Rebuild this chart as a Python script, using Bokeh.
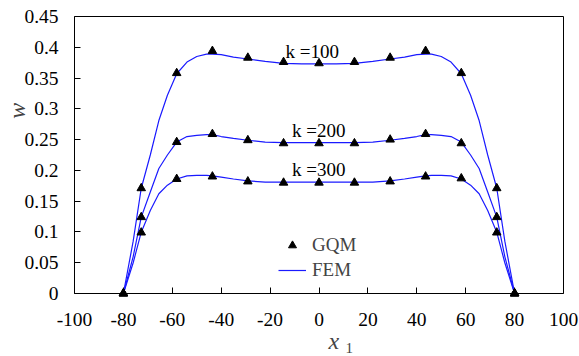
import math
from bokeh.plotting import figure
from bokeh.models import ColumnDataSource, Legend, LegendItem, Label, FixedTicker, Range1d, LinearAxis
from bokeh.core.properties import value
from bokeh.embed import file_html
from bokeh.resources import INLINE

# GQM points
gqm_x = [-80, -72.7, -58.2, -43.6, -29.1, -14.5, 0, 14.5, 29.1, 43.6, 58.2, 72.7, 80]
gqm_k100 = [0, 0.171, 0.358, 0.394, 0.383, 0.376, 0.374, 0.376, 0.383, 0.394, 0.358, 0.171, 0]
gqm_k200 = [0, 0.124, 0.246, 0.259, 0.249, 0.244, 0.244, 0.244, 0.250, 0.259, 0.244, 0.124, 0]
gqm_k300 = [0, 0.099, 0.186, 0.190, 0.182, 0.180, 0.180, 0.180, 0.182, 0.190, 0.187, 0.099, 0]

# FEM curves
fem_x = [-80, -76, -72.7, -69, -65.5, -62, -58.2, -54, -50, -46, -43.6, -40, -35, -29.1, -22, -14.5, -7, 0,
         7, 14.5, 22, 29.1, 35, 40, 43.6, 46, 50, 54, 58.2, 62, 65.5, 69, 72.7, 76, 80]
fem_k100 = [0, 0.085, 0.171, 0.225, 0.281, 0.322, 0.357, 0.376, 0.385, 0.389, 0.389, 0.388, 0.384, 0.381, 0.377, 0.374, 0.373, 0.373,
            0.373, 0.374, 0.377, 0.381, 0.384, 0.388, 0.389, 0.389, 0.385, 0.376, 0.357, 0.322, 0.281, 0.225, 0.171, 0.085, 0]
fem_k200 = [0, 0.060, 0.124, 0.165, 0.203, 0.225, 0.246, 0.255, 0.257, 0.258, 0.258, 0.255, 0.252, 0.249, 0.246, 0.245, 0.245, 0.245,
            0.245, 0.245, 0.246, 0.249, 0.252, 0.255, 0.258, 0.258, 0.257, 0.255, 0.246, 0.225, 0.203, 0.165, 0.124, 0.060, 0]
fem_k300 = [0, 0.050, 0.0996, 0.135, 0.162, 0.176, 0.186, 0.191, 0.192, 0.192, 0.191, 0.189, 0.186, 0.183, 0.181, 0.181, 0.181, 0.181,
            0.181, 0.181, 0.181, 0.183, 0.186, 0.189, 0.191, 0.192, 0.192, 0.191, 0.186, 0.176, 0.162, 0.135, 0.0996, 0.050, 0]

x_ticks = [-100, -80, -60, -40, -20, 0, 20, 40, 60, 80, 100]
y_ticks = [0, 0.05, 0.1, 0.15, 0.2, 0.25, 0.3, 0.35, 0.4, 0.45]
curve_labels = ["k =100", "k =200", "k =300"]
label_x = [-13.7, -11, -11]
label_y = [0.393, 0.264, 0.202]

X_MIN, X_MAX = -100, 100
Y_MIN, Y_MAX = 0, 0.45

FONT = "Liberation Serif"

# the frame spans the whole canvas; the plotting box is drawn with fixed-location axes
sx = (563 - 74) / (X_MAX - X_MIN)
sy = (293 - 16) / (Y_MAX - Y_MIN)
x_range = Range1d(X_MIN - 74 / sx, X_MAX + 16 / sx)
y_range = Range1d(Y_MIN - 63 / sy, Y_MAX + 16 / sy)

p = figure(width=579, height=356, output_backend="svg", toolbar_location=None,
           x_range=x_range, y_range=y_range, x_axis_location=None, y_axis_location=None,
           min_border=0)
p.grid.visible = False
p.outline_line_color = None
p.background_fill_color = "white"
p.border_fill_color = "white"


def style_axis(ax, ticks):
    ax.ticker = FixedTicker(ticks=ticks)
    ax.major_tick_in = 6
    ax.major_tick_out = 0
    ax.minor_tick_in = 0
    ax.minor_tick_out = 0
    ax.axis_line_color = "black"
    ax.axis_line_width = 1
    ax.major_tick_line_color = "black"
    ax.major_label_text_font = FONT
    ax.major_label_text_font_size = "19.5px"
    ax.major_label_text_color = "black"


xb = LinearAxis(fixed_location=Y_MIN, bounds=(X_MIN, X_MAX))
style_axis(xb, x_ticks)
xb.major_label_overrides = {t: str(t) for t in x_ticks}
xb.major_label_standoff = 19
p.add_layout(xb, "below")

yl = LinearAxis(fixed_location=X_MIN, bounds=(Y_MIN, Y_MAX))
style_axis(yl, y_ticks)
yl.major_label_overrides = {t: ("0" if t == 0 else ("%g" % t)) for t in y_ticks}
yl.major_label_standoff = 16
p.add_layout(yl, "left")

xt = LinearAxis(fixed_location=Y_MAX, bounds=(X_MIN, X_MAX))
style_axis(xt, [])
xt.major_label_text_alpha = 0
p.add_layout(xt, "above")

yr = LinearAxis(fixed_location=X_MAX, bounds=(Y_MIN, Y_MAX))
style_axis(yr, [])
yr.major_label_text_alpha = 0
p.add_layout(yr, "right")

fem_renderers = []
for ys in (fem_k100, fem_k200, fem_k300):
    r = p.line(fem_x, ys, line_color="#1a1aff", line_width=1.2)
    fem_renderers.append(r)

gqm_renderers = []
for ys in (gqm_k100, gqm_k200, gqm_k300):
    r = p.scatter(gqm_x, ys, marker="triangle", size=8.5, fill_color="black", line_color="black")
    gqm_renderers.append(r)

src = ColumnDataSource(dict(x=label_x, y=label_y, t=curve_labels))
p.text(x="x", y="y", text="t", source=src, text_font=value(FONT), text_font_size="19px",
       text_color="black", text_align="left", text_baseline="alphabetic")

legend = Legend(items=[LegendItem(label="GQM", renderers=[gqm_renderers[0]]),
                       LegendItem(label="FEM", renderers=[fem_renderers[0]])],
                location=(278, 75), glyph_width=28, glyph_height=20, label_standoff=6,
                padding=0, spacing=3, margin=0, border_line_alpha=0, background_fill_alpha=0,
                label_text_font=FONT, label_text_font_size="19px", label_height=20)
p.add_layout(legend)

p.add_layout(Label(x=3.9, y=-0.0779, text="x", text_font=FONT, text_font_style="italic",
                   text_font_size="24px", text_baseline="alphabetic", text_align="left"))
p.add_layout(Label(x=10.8, y=-0.0893, text="1", text_font=FONT,
                   text_font_size="15px", text_baseline="alphabetic", text_align="left"))
p.add_layout(Label(x=-123.7, y=0.297, text="w", text_font=FONT, text_font_style="italic",
                   text_font_size="24px", text_baseline="alphabetic", text_align="center",
                   angle=math.pi / 2))

open("out.html", "w").write(file_html(p, INLINE))
